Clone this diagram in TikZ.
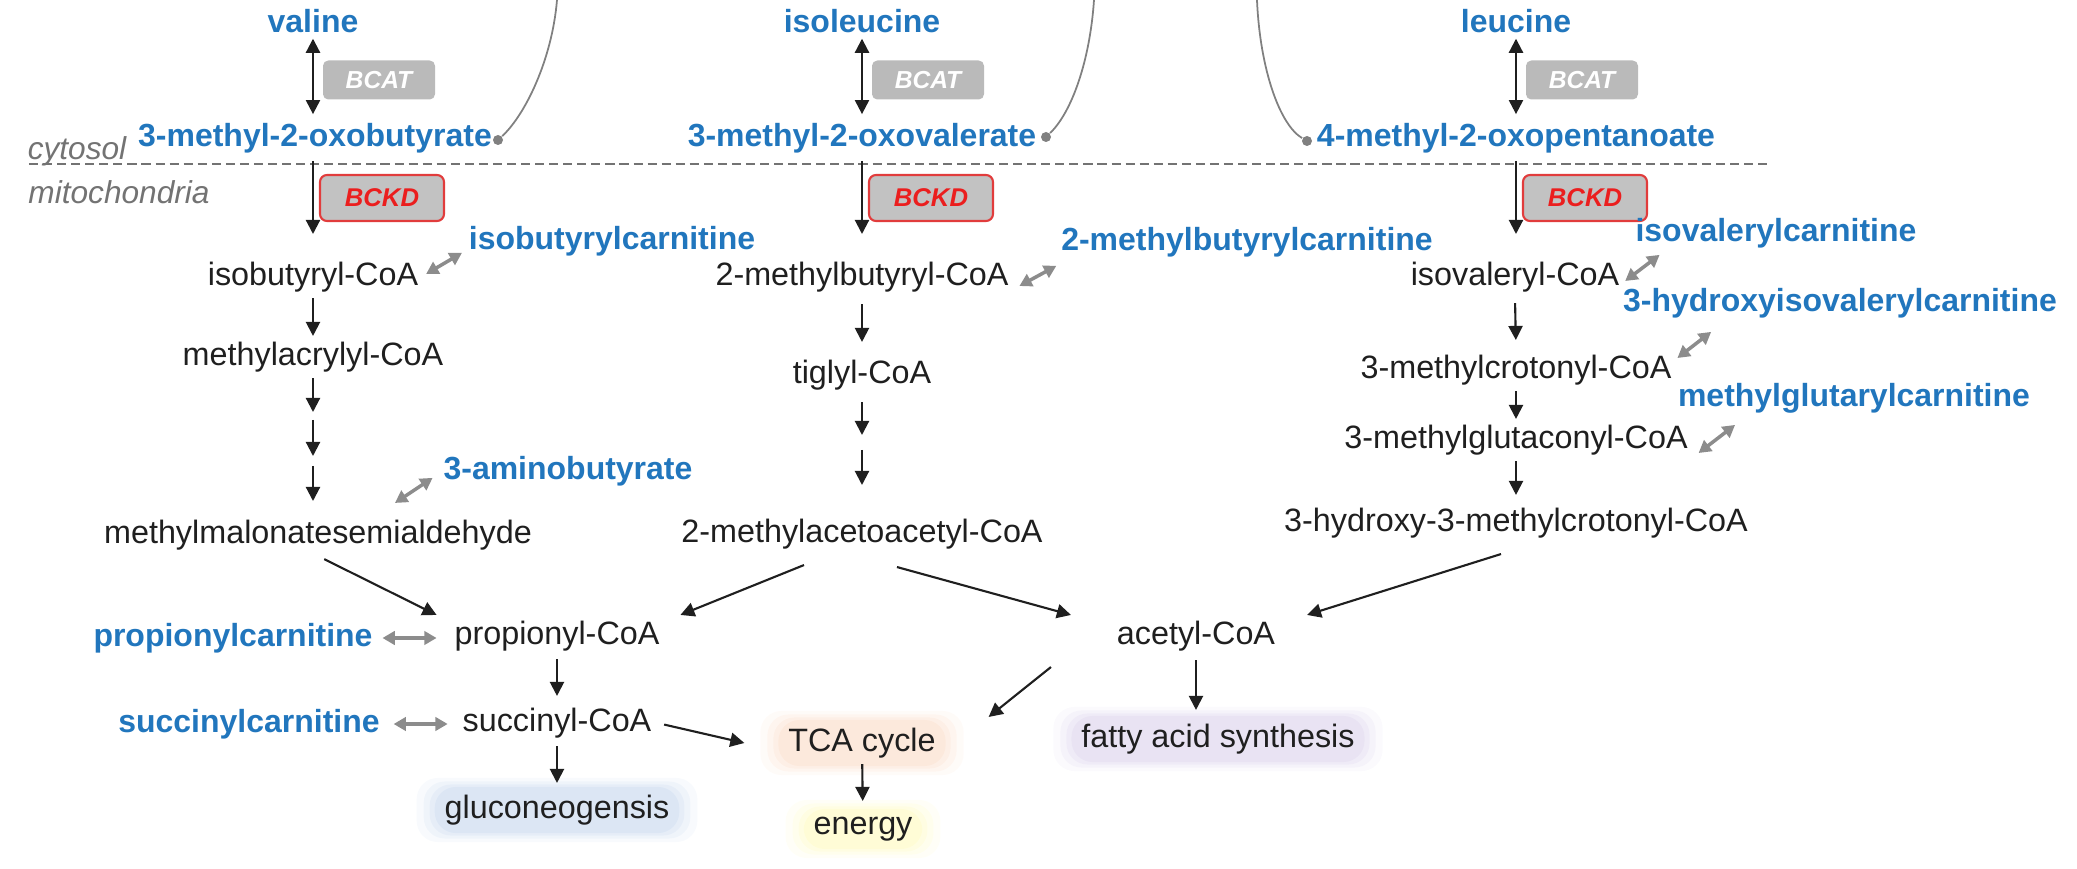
\documentclass[tikz,border=0pt]{standalone}
\usepackage{fontspec}
\setmainfont{Liberation Sans}
\usetikzlibrary{arrows.meta,calc,backgrounds}
\definecolor{metblue}{RGB}{33,118,189}
\definecolor{bckdred}{RGB}{225,60,60}
\definecolor{bckdtext}{RGB}{235,30,30}
\definecolor{glowblue}{RGB}{120,160,215}
\definecolor{glowpeach}{RGB}{245,170,120}
\definecolor{glowyellow}{RGB}{255,245,100}
\definecolor{glowlav}{RGB}{170,150,210}
\newcommand{\halo}[2]{%
  \begin{scope}[on background layer]
    \foreach \p/\o in {0.22/0.05,0.15/0.07,0.09/0.08,0.04/0.09}{%
      \fill[#2,opacity=\o,rounded corners=6pt] ($(#1.south west)+(-\p,-0.5*\p)$) rectangle ($(#1.north east)+(\p,0.5*\p)$);
    }
  \end{scope}}
\tikzset{
  met/.style={font=\fontsize{9.2}{11}\selectfont, text=black!88, inner sep=1.5pt},
  carn/.style={font=\fontsize{9.1}{11}\selectfont\bfseries, text=metblue, inner sep=1.5pt},
  comp/.style={font=\fontsize{9}{11}\selectfont\itshape, text=black!55, inner sep=1pt},
  bcatbox/.style={fill=black!27, rounded corners=1.5pt, minimum width=1.12cm, minimum height=0.39cm, inner sep=0pt, text=white, font=\fontsize{7}{8}\selectfont\bfseries\itshape},
  bckdbox/.style={fill=black!24, draw=bckdred, line width=0.6pt, rounded corners=2pt, minimum width=1.24cm, minimum height=0.46cm, inner sep=0pt, text=bckdtext, font=\fontsize{7.3}{8}\selectfont\bfseries\itshape},
  rx/.style={draw=black!88, line width=0.6pt, -{Triangle[length=4pt,width=4pt]}},
  rv/.style={draw=black!88, line width=0.6pt, {Triangle[length=4pt,width=4pt]}-{Triangle[length=4pt,width=4pt]}},
  gx/.style={draw=black!45, line width=1pt, {Triangle[length=3.5pt,width=3.8pt]}-{Triangle[length=3.5pt,width=3.8pt]}},
  sep/.style={draw=black!55, line width=0.8pt, dash pattern=on 2.6pt off 1.4pt},
  link/.style={draw=black!50, line width=0.5pt},
  dotnode/.style={circle, fill=black!50, inner sep=0pt, minimum size=0.1cm}
}
\begin{document}
\begin{tikzpicture}
\useasboundingbox (0,0) rectangle (20.77,-8.69);

% compartments
\coordinate (dl) at (0.29,-1.64);
\coordinate (dr) at (17.68,-1.64);
\draw[sep] (dl) -- (dr);
\node[comp] (cyt) at (0.77,-1.51) {cytosol};
\node[comp] (mito) at (1.19,-1.92) {mitochondria};

% column 1: valine
\node[carn] (val) at (3.13,-0.21) {valine};
\node[carn] (oxobut) at (3.15,-1.38) {3-methyl-2-oxobutyrate};
\node[bcatbox] (bcat1) at (3.79,-0.80) {BCAT};
\node[bckdbox] (bckd1) at (3.82,-1.98) {BCKD};
\node[met] (ibCoA) at (3.13,-2.77) {isobutyryl-CoA};
\node[carn] (ibcarn) at (6.12,-2.41) {isobutyrylcarnitine};
\node[met] (macCoA) at (3.13,-3.57) {methylacrylyl-CoA};
\node[met] (mmsa) at (3.18,-5.35) {methylmalonatesemialdehyde};
\node[carn] (amb) at (5.68,-4.71) {3-aminobutyrate};

% column 2: isoleucine
\node[carn] (ile) at (8.62,-0.21) {isoleucine};
\node[carn] (oxoval) at (8.62,-1.38) {3-methyl-2-oxovalerate};
\node[bcatbox] (bcat2) at (9.28,-0.80) {BCAT};
\node[bckdbox] (bckd2) at (9.31,-1.98) {BCKD};
\node[met] (mbCoA) at (8.62,-2.77) {2-methylbutyryl-CoA};
\node[carn] (mbcarn) at (12.47,-2.42) {2-methylbutyrylcarnitine};
\node[met] (tig) at (8.62,-3.75) {tiglyl-CoA};
\node[met] (mmaa) at (8.62,-5.34) {2-methylacetoacetyl-CoA};

% column 3: leucine
\node[carn] (leu) at (15.16,-0.21) {leucine};
\node[carn] (oxopent) at (15.16,-1.38) {4-methyl-2-oxopentanoate};
\node[bcatbox] (bcat3) at (15.82,-0.80) {BCAT};
\node[bckdbox] (bckd3) at (15.85,-1.98) {BCKD};
\node[met] (ivCoA) at (15.15,-2.77) {isovaleryl-CoA};
\node[carn] (ivcarn) at (17.76,-2.33) {isovalerylcarnitine};
\node[carn] (hivcarn) at (18.40,-3.03) {3-hydroxyisovalerylcarnitine};
\node[met] (mcCoA) at (15.16,-3.70) {3-methylcrotonyl-CoA};
\node[carn] (mgcarn) at (18.54,-3.98) {methylglutarylcarnitine};
\node[met] (mgCoA) at (15.16,-4.40) {3-methylglutaconyl-CoA};
\node[met] (hmcCoA) at (15.16,-5.23) {3-hydroxy-3-methylcrotonyl-CoA};

% bottom
\node[met] (prop) at (5.57,-6.36) {propionyl-CoA};
\node[carn] (propcarn) at (2.33,-6.38) {propionylcarnitine};
\node[met] (succ) at (5.57,-7.23) {succinyl-CoA};
\node[carn] (succcarn) at (2.49,-7.24) {succinylcarnitine};
\node[met] (gluco) at (5.57,-8.10) {gluconeogensis};
\node[met] (tca) at (8.62,-7.43) {TCA cycle};
\node[met] (energy) at (8.63,-8.29) {energy};
\node[met] (acetyl) at (11.96,-6.36) {acetyl-CoA};
\node[met] (fatty) at (12.18,-7.39) {fatty acid synthesis};

\halo{gluco}{glowblue}
\halo{tca}{glowpeach}
\halo{energy}{glowyellow}
\halo{fatty}{glowlav}

% dots and links leaving the picture
\node[dotnode] (d1) at (4.98,-1.40) {};
\node[dotnode] (d2) at (10.46,-1.37) {};
\node[dotnode] (d3) at (13.07,-1.41) {};
\coordinate (t1) at (5.57,0);
\coordinate (t2) at (10.94,0);
\coordinate (t3) at (12.57,0);
\draw[link] (d1) .. controls (5.25,-1.15) and (5.52,-0.6) .. (t1);
\draw[link] (d2) .. controls (10.72,-1.12) and (10.90,-0.6) .. (t2);
\draw[link] (d3) .. controls (12.80,-1.25) and (12.60,-0.7) .. (t3);

% column 1 arrows
\coordinate (k1) at (3.13,-2.34);
\coordinate (c1a) at (3.13,-4.12);
\coordinate (c1b) at (3.13,-4.20);
\coordinate (c1c) at (3.13,-4.56);
\coordinate (c1d) at (3.13,-4.66);
\coordinate (c1e) at (3.13,-5.01);
\draw[rv, shorten >=0.03cm] (val) -- (val |- oxobut.north);
\draw[rx, shorten <=0.02cm] (oxobut.south -| k1) -- (k1);
\draw[rx] (ibCoA) -- (macCoA);
\draw[rx] (macCoA) -- (c1a);
\draw[rx] (c1b) -- (c1c);
\draw[rx] (c1d) -- (c1e);

% column 2 arrows
\coordinate (k2) at (8.62,-2.34);
\coordinate (c2a) at (8.62,-4.35);
\coordinate (c2b) at (8.62,-4.50);
\coordinate (c2c) at (8.62,-4.85);
\draw[rv, shorten >=0.03cm] (ile) -- (oxoval);
\draw[rx, shorten <=0.02cm] (oxoval) -- (k2);
\draw[rx, shorten <=0.06cm, shorten >=0.12cm] (mbCoA) -- (tig);
\draw[rx, shorten <=0.06cm] (tig) -- (c2a);
\draw[rx] (c2b) -- (c2c);

% column 3 arrows
\coordinate (k3) at (15.16,-2.34);
\draw[rv, shorten >=0.03cm] (leu) -- (oxopent);
\draw[rx, shorten <=0.02cm] (oxopent) -- (k3);
\draw[rx, shorten <=0.05cm, shorten >=0.09cm] (ivCoA.south) -- (mcCoA.north);
\draw[rx] (mcCoA.south) -- (mgCoA.north);
\draw[rx, shorten >=0.07cm] (mgCoA.south) -- (hmcCoA.north);

% carnitine exchanges
\draw[gx] ([xshift=0.02cm,yshift=0.03cm]ibCoA.east) -- ([xshift=-0.01cm,yshift=0.09cm]ibcarn.south west);
\draw[gx] ([xshift=0.05cm,yshift=-0.09cm]mbCoA.east) -- ([xshift=0.01cm,yshift=-0.03cm]mbcarn.south west);
\draw[gx] ([yshift=-0.04cm]ivCoA.east) -- ([xshift=0.30cm,yshift=-0.01cm]ivcarn.south west);
\draw[gx] ([yshift=0.12cm]mcCoA.east) -- ([xshift=0.94cm,yshift=-0.08cm]hivcarn.south west);
\draw[gx] ([xshift=0.05cm,yshift=-0.13cm]mgCoA.east) -- ([xshift=0.63cm,yshift=-0.06cm]mgcarn.south west);
\draw[gx] ([xshift=0.77cm,yshift=0.11cm]mmsa.north) -- ([xshift=-0.05cm,yshift=0.14cm]amb.south west);
\draw[gx, shorten <=0.04cm, shorten >=0.12cm] (propcarn.east) -- (propcarn.east -| prop.west);
\draw[gx, shorten <=0.08cm, shorten >=0.09cm] (succcarn.east) -- (succcarn.east -| succ.west);

% converging arrows
\draw[rx, shorten <=0.07cm] (mmsa.south) -- ([xshift=-0.12cm]prop.north west);
\draw[rx] ([xshift=-0.58cm,yshift=-0.1cm]mmaa.south) -- ([xshift=0.15cm]prop.north east);
\draw[rx] ([xshift=0.35cm,yshift=-0.12cm]mmaa.south) -- ([xshift=-0.40cm]acetyl.north west);
\draw[rx] ([xshift=-0.15cm,yshift=-0.1cm]hmcCoA.south) -- ([xshift=0.26cm]acetyl.north east);

% downstream
\draw[rx, shorten <=0.02cm, shorten >=0.06cm] (prop) -- (succ);
\draw[rx, shorten <=0.07cm] (succ.east) -- ([xshift=-0.38cm]tca.west);
\draw[rx, shorten <=0.02cm, shorten >=0.06cm] (succ) -- (gluco);
\draw[rx, shorten >=0.1cm] (tca) -- (energy);
\draw[rx] ([xshift=-0.6cm,yshift=-0.1cm]acetyl.south west) -- ([xshift=0.47cm,yshift=0.05cm]tca.north east);
\draw[rx, shorten <=0.03cm, shorten >=0.08cm] (acetyl.south) -- (acetyl.south |- fatty.north);
\end{tikzpicture}
\end{document}
